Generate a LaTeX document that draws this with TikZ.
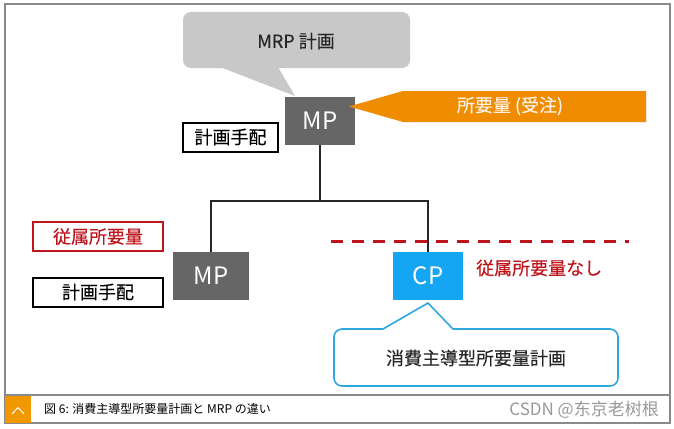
\documentclass[tikz,border=0pt]{standalone}
\usepackage{fontspec}
\setmainfont{Noto Sans CJK JP}
\newfontfamily\scfont{Noto Sans CJK SC}
\newfontfamily\heavyfont[FakeBold=0.35]{Noto Sans CJK JP}
\usepackage{tikz}
\usetikzlibrary{positioning,calc}
\definecolor{mpgrey}{HTML}{666666}
\definecolor{cpblue}{HTML}{14A6F2}
\definecolor{lineblue}{HTML}{2FA8E2}
\definecolor{ordorange}{HTML}{F08C00}
\definecolor{deptred}{HTML}{C0141C}
\definecolor{bubgrey}{HTML}{C8C8C8}
\definecolor{framegrey}{HTML}{8A8A8A}
\newcommand{\lblfont}{\heavyfont\fontsize{18}{20}\selectfont}
\newcommand{\itemfont}{\fontsize{24}{26}\selectfont}

\begin{document}
\begin{tikzpicture}[x=1pt,y=-1pt,
  item/.style={minimum width=70pt,minimum height=48pt,inner sep=0pt,text=white,font=\itemfont},
  tag/.style={draw,line width=2pt,inner sep=0pt,minimum height=29pt,font=\lblfont},
  tree/.style={line width=2pt,color=black!85}]
  \useasboundingbox (0,0) rectangle (674,428);
  \fill[white] (0,0) rectangle (674,428);
  % frame and caption bar
  \draw[framegrey,line width=1.5pt] (5,4) rectangle (670,423);
  \draw[framegrey,line width=1.2pt] (5,395) -- (670,395);
  \fill[ordorange!90!yellow] (5,396) rectangle (31,423);
  \draw[white,line width=1pt] (12,414) -- (18,407.5) -- (24,414);
  \node[anchor=west,font=\fontsize{12}{14}\selectfont,inner sep=0pt] (cap) at (44,409)
    {図 6: 消費主導型所要量計画と MRP の違い};
  \node[anchor=east,font=\scfont\fontsize{17}{20}\selectfont,text=black!40,inner sep=0pt] (mark) at (659,410)
    {CSDN @东京老树根};

  % MRP balloon
  \fill[bubgrey,rounded corners=8pt] (183,12) rectangle (410,68);
  \fill[bubgrey] (220,67) -- (295,96) -- (278,67) -- cycle;
  \node[font=\lblfont,text=black!85] (mrp) at (296,41) {MRP 計画};

  % items
  \node[item,fill=mpgrey] (mp1) at (320,121) {MP};
  \node[item,fill=mpgrey,minimum width=76pt] (mp2) at (211,276) {MP};
  \node[item,fill=cpblue] (cp) at (428,276) {CP};

  % order arrow
  \fill[ordorange] (349,106.5) -- (403,91) -- (646,91) -- (646,122) -- (403,122) -- cycle;
  \node[font=\lblfont,text=orange!10] (order) at (510,106) {所要量 (受注)};

  % tags
  \node[tag,minimum width=95pt] (plan1) at (230.5,137) {計画手配};
  \node[tag,draw=deptred,text=deptred,line width=1.6pt,minimum width=130pt] (dep) at (98,236.5) {従属所要量};
  \node[tag,minimum width=130pt] (plan2) at (98,292) {計画手配};

  % tree
  \coordinate (jn) at (320,200.5);
  \draw[tree] (mp1.south) -- (jn);
  \draw[tree] (jn) -| (mp2.north);
  \draw[tree] (jn) -| (cp.north);

  % cut line
  \coordinate (cutL) at (331,241);
  \coordinate (cutR) at (629,241);
  \draw[deptred,line width=3pt,dash pattern=on 12pt off 9pt] (cutL) -- (cutR);
  \node[font=\lblfont,text=deptred,anchor=west,inner sep=0pt] (nodep) at (476,268) {従属所要量なし};

  % CP balloon
  \draw[lineblue,line width=1.6pt,fill=white] (383,329) -- (428,303) -- (453,329)
    -- (610,329) to[out=0,in=90] (618,337) -- (618,378) to[out=-90,in=0] (610,386)
    -- (342,386) to[out=180,in=-90] (334,378) -- (334,337) to[out=90,in=180] (342,329) -- cycle;
  \node[font=\lblfont,text=black!85] (cpp) at (476,358) {消費主導型所要量計画};
\end{tikzpicture}
\end{document}
